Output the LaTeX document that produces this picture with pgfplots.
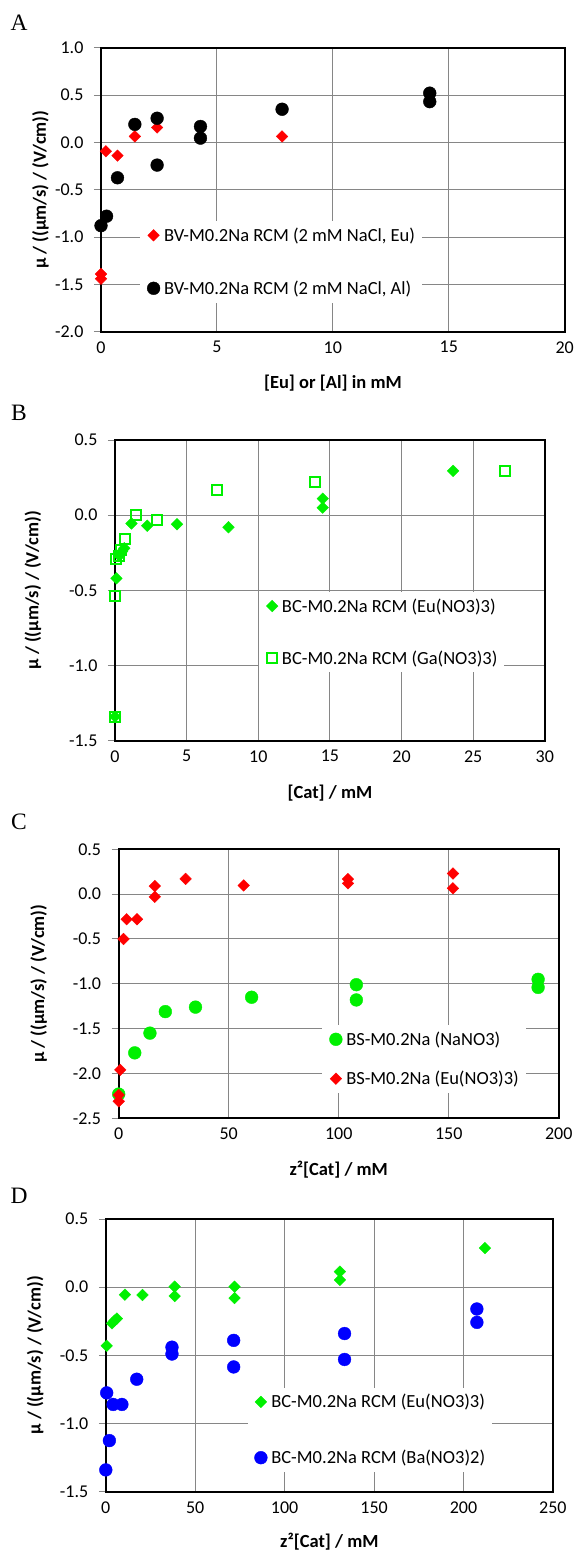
\documentclass[border=0pt]{standalone}
\usepackage{fontspec}
\setmainfont{Carlito}
\newfontfamily\timesfont{Liberation Serif}
\usepackage{pgfplots}
\pgfplotsset{compat=1.18}

\definecolor{gridgray}{RGB}{134,134,134}
\definecolor{xred}{RGB}{255,0,0}
\definecolor{xgreen}{RGB}{0,240,0}
\definecolor{xblue}{RGB}{0,0,255}

\pgfplotsset{
 panel/.style={
  scale only axis,
  clip=false,
  axis line style={line width=2pt, black},
  grid=major,
  major grid style={gridgray, line width=1pt},
  tick align=inside,
  major tick length=7pt,
  xtick style={draw=none},
  ytick style={gridgray, line width=1pt, xshift=-7pt},
  tick pos=left,
  ticklabel style={font=\fontsize{18}{18}\selectfont, inner sep=0pt},
  yticklabel style={anchor=east, xshift=-17.4pt},
  xticklabel style={anchor=north, yshift=-9.5pt},
  /pgf/number format/assume math mode=true,
  yticklabel style={/pgf/number format/.cd, fixed, fixed zerofill, precision=1},
  label style={font=\bfseries\fontsize{18.5}{18.5}\selectfont},
  legend style={draw=none, fill=white, font=\fontsize{18.5}{18.5}\selectfont,
     inner xsep=7pt, inner ysep=8pt,
     nodes={inner sep=0pt, text height=12pt, text depth=0pt},
     /tikz/every odd column/.style={column sep=4pt}},
  legend cell align=left,
  legend image code/.code={\draw[##1] plot coordinates {(0pt,0pt)};},
 },
 dia/.style={only marks, mark=square*, mark size=4.1pt, mark options={rotate=45, draw=#1, fill=#1}},
 circ/.style={only marks, mark=*, mark size=6.4pt, mark options={draw=#1, fill=#1}},
 osq/.style={only marks, mark=square, mark size=5pt, mark options={draw=#1, line width=2pt}},
}

\begin{document}
\begin{tikzpicture}
\useasboundingbox (0,0) rectangle (576pt,-1551pt);

\node[font=\timesfont\fontsize{23.5}{23.5}\selectfont, inner sep=0pt] at (19pt,-23pt) {A};
\node[font=\timesfont\fontsize{23.5}{23.5}\selectfont, inner sep=0pt] at (19pt,-413pt) {B};
\node[font=\timesfont\fontsize{23.5}{23.5}\selectfont, inner sep=0pt] at (19pt,-821.5pt) {C};
\node[font=\timesfont\fontsize{23.5}{23.5}\selectfont, inner sep=0pt] at (19pt,-1196pt) {D};

% ---------------- A ----------------
\begin{axis}[panel, at={(101pt,-47.7pt)}, anchor=north west, width=463.7pt, height=284pt,
  xmin=0, xmax=20, ymin=-2, ymax=1,
  xtick={0,5,10,15,20}, ytick={-2,-1.5,-1,-0.5,0,0.5,1},
  xlabel={{}[Eu] or [Al] in mM}, ylabel={μ / ((μm/s) / (V/cm))},
  xlabel style={at={(axis description cs:0.5,-0.1817)}, anchor=center},
  ylabel style={at={(axis description cs:-0.1307,0.5)}, anchor=center},
  legend style={at={(0.0841,0.2454)}, anchor=west, row sep=40.6pt}]
\addplot[dia=xred] coordinates {(0,-1.39) (0,-1.44) (0.21,-0.094) (0.71,-0.14) (1.46,0.063) (2.42,0.157) (7.81,0.063)};
\addlegendentry{BV-M0.2Na RCM (2 mM NaCl, Eu)}
\addplot[circ=black] coordinates {(0,-0.88) (0.24,-0.78) (0.71,-0.374) (1.46,0.19) (2.42,0.255) (2.42,-0.24) (4.29,0.168) (4.29,0.045) (7.81,0.35) (14.18,0.52) (14.18,0.43)};
\addlegendentry{BV-M0.2Na RCM (2 mM NaCl, Al)}
\end{axis}

% ---------------- B ----------------
\begin{axis}[panel, at={(115pt,-440pt)}, anchor=north west, width=429.8pt, height=300.7pt,
  xmin=0, xmax=30, ymin=-1.5, ymax=0.5,
  xtick={0,5,10,15,20,25,30}, ytick={-1.5,-1,-0.5,0,0.5},
  xlabel={{}[Cat] / mM}, ylabel={μ / ((μm/s) / (V/cm))},
  xlabel style={at={(axis description cs:0.5,-0.175)}, anchor=center},
  ylabel style={at={(axis description cs:-0.1908,0.5)}, anchor=center},
  legend style={at={(0.3355,0.3608)}, anchor=west, row sep=40.3pt}]
\addplot[dia=xgreen] coordinates {(0,-1.34) (0.1,-0.42) (0.3,-0.27) (0.5,-0.24) (0.65,-0.22) (1.15,-0.055) (2.25,-0.07) (4.33,-0.06) (7.92,-0.08) (14.5,0.11) (14.5,0.05) (23.6,0.295)};
\addlegendentry{BC-M0.2Na RCM (Eu(NO3)3)}
\addplot[osq=xgreen] coordinates {(0,-1.34) (0,-0.54) (0.1,-0.29) (0.25,-0.27) (0.4,-0.23) (0.7,-0.16) (1.5,0) (2.9,-0.035) (7.1,0.17) (13.95,0.22) (27.2,0.295)};
\addlegendentry{BC-M0.2Na RCM (Ga(NO3)3)}
\end{axis}

% ---------------- C ----------------
\begin{axis}[panel, at={(118.7pt,-849.3pt)}, anchor=north west, width=440.1pt, height=269pt,
  xmin=0, xmax=200, ymin=-2.5, ymax=0.5,
  xtick={0,50,100,150,200}, ytick={-2.5,-2,-1.5,-1,-0.5,0,0.5},
  xlabel={z²[Cat] / mM}, ylabel={μ / ((μm/s) / (V/cm))},
  xlabel style={at={(axis description cs:0.5,-0.1896)}, anchor=center},
  ylabel style={at={(axis description cs:-0.182,0.5)}, anchor=center},
  legend style={at={(0.4626,0.2212)}, anchor=west, row sep=27pt}]
\addplot[circ=xgreen] coordinates {(0,-2.23) (7.3,-1.77) (14.2,-1.55) (21.2,-1.31) (34.9,-1.26) (60.4,-1.15) (108,-1.01) (108,-1.18) (190.6,-0.95) (190.6,-1.04)};
\addlegendentry{BS-M0.2Na (NaNO3)}
\addplot[dia=xred] coordinates {(0,-2.24) (0,-2.31) (0.7,-1.96) (2.2,-0.5) (3.6,-0.28) (8.3,-0.28) (16.4,0.09) (16.4,-0.03) (30.4,0.17) (56.8,0.097) (104.2,0.168) (104.2,0.12) (151.9,0.23) (151.9,0.065)};
\addlegendentry{BS-M0.2Na (Eu(NO3)3)}
\end{axis}

% ---------------- D ----------------
\begin{axis}[panel, at={(105.8pt,-1219pt)}, anchor=north west, width=447.1pt, height=272.7pt,
  xmin=0, xmax=250, ymin=-1.5, ymax=0.5,
  xtick={0,50,100,150,200,250}, ytick={-1.5,-1,-0.5,0,0.5},
  xlabel={z²[Cat] / mM}, ylabel={μ / ((μm/s) / (V/cm))},
  xlabel style={at={(axis description cs:0.5,-0.1834)}, anchor=center},
  ylabel style={at={(axis description cs:-0.158,0.5)}, anchor=center},
  legend style={at={(0.3165,0.2263)}, anchor=west, row sep=43.4pt}]
\addplot[dia=xgreen] coordinates {(0.5,-0.43) (3.5,-0.265) (4.9,-0.245) (6.2,-0.23) (10.7,-0.055) (20.5,-0.057) (38.5,0.004) (38.5,-0.065) (72,0.004) (72,-0.08) (130.9,0.114) (130.9,0.053) (212,0.287)};
\addlegendentry{BC-M0.2Na RCM (Eu(NO3)3)}
\addplot[circ=xblue] coordinates {(0,-1.34) (2,-1.125) (0.5,-0.775) (4.1,-0.86) (9,-0.86) (17.3,-0.675) (37,-0.44) (37,-0.49) (71.5,-0.39) (71.5,-0.585) (133.5,-0.34) (133.5,-0.53) (207.5,-0.16) (207.5,-0.258)};
\addlegendentry{BC-M0.2Na RCM (Ba(NO3)2)}
\end{axis}
\end{tikzpicture}
\end{document}
